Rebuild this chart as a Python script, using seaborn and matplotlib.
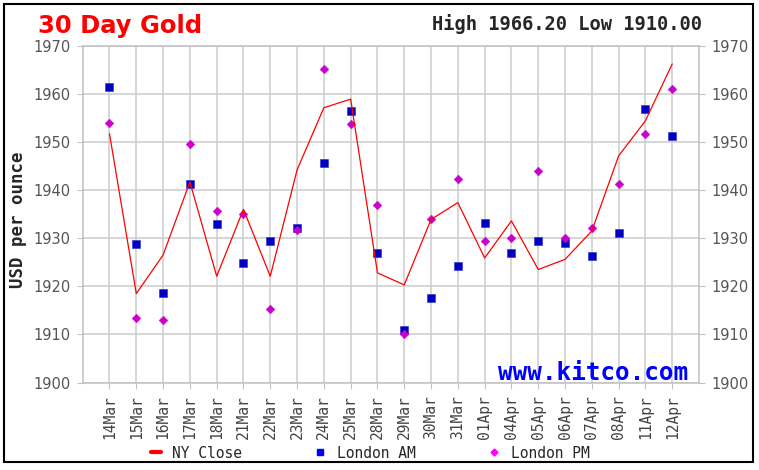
import pandas as pd
import matplotlib.pyplot as plt
import seaborn as sns
from matplotlib.lines import Line2D
from matplotlib.patches import Rectangle

# Values
dates = ['14Mar', '15Mar', '16Mar', '17Mar', '18Mar', '21Mar', '22Mar', '23Mar',
         '24Mar', '25Mar', '28Mar', '29Mar', '30Mar', '31Mar', '01Apr', '04Apr',
         '05Apr', '06Apr', '07Apr', '08Apr', '11Apr', '12Apr']
ny_close = [1951.7, 1918.5, 1926.5, 1941.7, 1922.1, 1936.0, 1922.1, 1944.2,
            1957.1, 1958.9, 1922.8, 1920.3, 1933.9, 1937.4, 1925.9, 1933.6,
            1923.5, 1925.6, 1931.5, 1947.1, 1954.4, 1966.2]
london_am = [1961.5, 1928.7, 1918.7, 1941.2, 1932.9, 1924.9, 1929.4, 1932.2,
             1945.7, 1956.4, 1927.0, 1911.0, 1917.6, 1924.2, 1933.2, 1927.0,
             1929.4, 1929.0, 1926.3, 1931.1, 1956.8, 1951.2]
london_pm = [1954.0, 1913.5, 1913.1, 1949.5, 1935.6, 1935.1, 1915.2, 1931.8,
             1965.1, 1953.7, 1937.0, 1910.0, 1933.9, 1942.2, 1929.4, 1930.1,
             1943.9, 1930.1, 1932.2, 1941.2, 1951.6, 1960.9]
y_ticks = [1900, 1910, 1920, 1930, 1940, 1950, 1960, 1970]

df = pd.DataFrame({'date': dates, 'NY Close': ny_close,
                   'London AM': london_am, 'London PM': london_pm})
df['pos'] = range(len(df))

sns.set_style('white')
plt.rcParams['font.family'] = ['DejaVu Sans']
mono = 'DejaVu Sans Mono'

W, H = 759, 470
fig = plt.figure(figsize=(W / 100, H / 100), dpi=100)
ax = fig.add_axes([82.7 / W, 1 - 382.6 / H, (699 - 82.7) / W, (382.6 - 45.7) / H])

sns.scatterplot(data=df, x='pos', y='London AM', marker='s', s=36, color='#0000c0',
                edgecolor='#2a2ad0', linewidth=0.4, ax=ax, zorder=3, legend=False)
sns.scatterplot(data=df, x='pos', y='London PM', marker='D', s=20, color='#cc00cc',
                edgecolor='#cc00cc', linewidth=0.3, ax=ax, zorder=3, legend=False)
sns.lineplot(data=df, x='pos', y='NY Close', color='#ff0000', linewidth=0.9,
             ax=ax, zorder=4, legend=False)

ax.set_xlim(-1, len(dates))
ax.set_ylim(1900, 1970)
ax.set_xticks(df['pos'])
ax.set_xticklabels(dates, rotation=90, family=mono, fontsize=10.5, color='#444444')
ax.set_yticks(y_ticks)
ax.set_xlabel('')
ax.set_ylabel('')
ax.tick_params(axis='y', left=True, right=True, labelleft=True, labelright=True,
               length=4, color='#c0c0c0', labelsize=10.5, labelcolor='#555555', pad=5)
ax.tick_params(axis='x', bottom=True, length=4, color='#c0c0c0', pad=5)
ax.grid(True, color='#cccccc', linewidth=1.1)
for sp in ax.spines.values():
    sp.set_color('#c0c0c0')
    sp.set_linewidth(1.1)

fig.text(38 / W, 1 - 33 / H, '30 Day Gold', color='#ff0000', weight='bold',
         fontsize=17.5, ha='left', va='baseline')
fig.text(702 / W, 1 - 30 / H, 'High 1966.20 Low 1910.00', family=mono, weight='bold',
         fontsize=13.5, ha='right', va='baseline')
fig.text(18 / W, 1 - 220 / H, 'USD per ounce', family=mono, weight='bold',
         fontsize=12.5, rotation=90, ha='center', va='center')
fig.text(688 / W, 1 - 373 / H, 'www.kitco.com', family=mono, weight='bold',
         color='#0000ff', fontsize=17.5, ha='right', va='center')

handles = [Line2D([], [], color='#ff0000', lw=3),
           Line2D([], [], marker='s', color='#0000ff', ls='', ms=4),
           Line2D([], [], marker='D', color='#ff00ff', ls='', ms=3.5)]
fig.legend(handles, ['NY Close', 'London AM', 'London PM'], loc='center',
           bbox_to_anchor=(370 / W, 1 - 453 / H), ncol=3, frameon=False,
           prop={'family': mono, 'size': 10.5}, handlelength=0.7,
           handletextpad=0.8, columnspacing=5.0)

fig.add_artist(Rectangle((4 / W, 1 - 462 / H), (752.7 - 4) / W, (462 - 4) / H,
                         transform=fig.transFigure, fill=False,
                         edgecolor='black', linewidth=1.5))

fig.savefig('out.png', dpi=100)
